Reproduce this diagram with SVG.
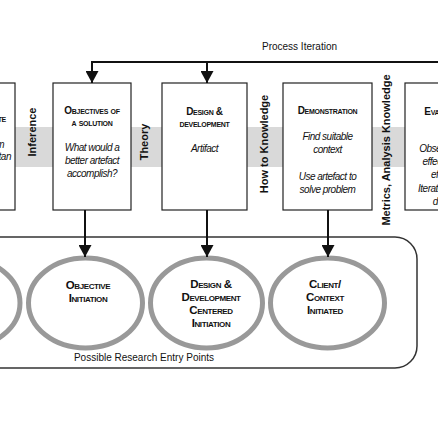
<svg xmlns="http://www.w3.org/2000/svg" width="438" height="438" viewBox="0 0 438 438">
<style>
.box{fill:#fff;stroke:#222;stroke-width:1.2}
.head{font-family:"Liberation Sans",Arial,sans-serif;font-weight:bold;font-variant:small-caps;font-size:10px;fill:#111;text-anchor:middle;letter-spacing:-0.3px}
.body{font-family:"Liberation Sans",Arial,sans-serif;font-style:italic;font-size:10px;fill:#111;text-anchor:middle;letter-spacing:-0.5px}
.vlab{font-family:"Liberation Sans",Arial,sans-serif;font-weight:bold;font-size:11px;fill:#111;text-anchor:middle}
.ell{fill:#fff;stroke:#999;stroke-width:5}
.etxt{font-family:"Liberation Sans",Arial,sans-serif;font-weight:bold;font-variant:small-caps;font-size:11.5px;fill:#111;text-anchor:middle;letter-spacing:-0.4px}
.plain{font-family:"Liberation Sans",Arial,sans-serif;font-size:10px;fill:#111;text-anchor:middle}
.conn{stroke:#111;stroke-width:2;fill:none}
</style>
<defs>
<marker id="ah" markerUnits="userSpaceOnUse" markerWidth="14" markerHeight="13" refX="12" refY="6.5" orient="auto">
<path d="M0,0 L12,6.5 L0,13 Z" fill="#111"/>
</marker>
</defs>
<rect width="438" height="438" fill="#fff"/>
<rect id="band" x="0" y="127" width="438" height="40" fill="#d9d9d9"/>

<g id="entry-region">
<path d="M-10,237 H395 A22,22 0 0 1 417,259 V346 A22,22 0 0 1 395,368 H-10" fill="#fff" stroke="#333" stroke-width="1.5"/>
<text class="plain" x="144" y="361">Possible Research Entry Points</text>
</g>

<g id="box-identify">
<rect class="box" x="-65" y="83" width="80" height="127"/>
<text class="head" x="6" y="122" style="text-anchor:end">&amp; Motivate</text>
<text class="body" x="4" y="148" style="text-anchor:end">Define problem</text>
<text class="body" x="11" y="160" style="text-anchor:end">Show importan</text>
</g>

<g id="box-objectives">
<rect class="box" x="53" y="83" width="78" height="127"/>
<text class="head" x="92" y="114">Objectives of</text>
<text class="head" x="92" y="126">a solution</text>
<text class="body" x="92" y="151">What would a</text>
<text class="body" x="92" y="164">better artefact</text>
<text class="body" x="92" y="177">accomplish?</text>
</g>

<g id="box-design">
<rect class="box" x="162" y="83" width="85" height="127"/>
<text class="head" x="204.5" y="115">Design &amp;</text>
<text class="head" x="204.5" y="127">development</text>
<text class="body" x="204.5" y="152">Artifact</text>
</g>

<g id="box-demonstration">
<rect class="box" x="283" y="83" width="89" height="127"/>
<text class="head" x="327.5" y="114">Demonstration</text>
<text class="body" x="327.5" y="140">Find suitable</text>
<text class="body" x="327.5" y="153">context</text>
<text class="body" x="327.5" y="180">Use artefact to</text>
<text class="body" x="327.5" y="193">solve problem</text>
</g>

<g id="box-evaluation">
<rect class="box" x="405" y="83" width="82" height="127"/>
<text class="head" x="446" y="115">Evaluation</text>
<text class="body" x="446" y="152">Observe how</text>
<text class="body" x="440" y="165">effective,</text>
<text class="body" x="446" y="178">efficient</text>
<text class="body" x="446" y="192">Iterate back to</text>
<text class="body" x="446" y="205">design</text>
</g>

<g id="labels">
<text class="vlab" transform="translate(36,132) rotate(-90)">Inference</text>
<text class="vlab" transform="translate(148,142) rotate(-90)">Theory</text>
<text class="vlab" transform="translate(268,144) rotate(-90)">How to Knowledge</text>
<text class="vlab" transform="translate(390,150) rotate(-90)">Metrics, Analysis Knowledge</text>
<text class="plain" x="299.5" y="50">Process Iteration</text>
</g>

<g id="ell-problem"><ellipse class="ell" cx="-37" cy="303" rx="57" ry="45"/></g>
<g id="ell-objective">
<ellipse class="ell" cx="85.5" cy="303" rx="57" ry="45"/>
<text class="etxt" x="88" y="289">Objective</text>
<text class="etxt" x="88" y="302">Initiation</text>
</g>
<g id="ell-design">
<ellipse class="ell" cx="206.5" cy="303" rx="56" ry="45"/>
<text class="etxt" x="211" y="288">Design &amp;</text>
<text class="etxt" x="211" y="301">Development</text>
<text class="etxt" x="211" y="314">Centered</text>
<text class="etxt" x="211" y="327">Initiation</text>
</g>
<g id="ell-client">
<ellipse class="ell" cx="327.5" cy="303" rx="57" ry="45"/>
<text class="etxt" x="325" y="288">Client/</text>
<text class="etxt" x="325" y="301">Context</text>
<text class="etxt" x="325" y="314">Initiated</text>
</g>

<g id="connectors">
<path class="conn" d="M438,62 H92 V83" marker-end="url(#ah)"/>
<path class="conn" d="M207,62 V83" marker-end="url(#ah)"/>
<path class="conn" d="M85,210 V257" marker-end="url(#ah)"/>
<path class="conn" d="M207,210 V257" marker-end="url(#ah)"/>
<path class="conn" d="M328,210 V257" marker-end="url(#ah)"/>
</g>
</svg>
